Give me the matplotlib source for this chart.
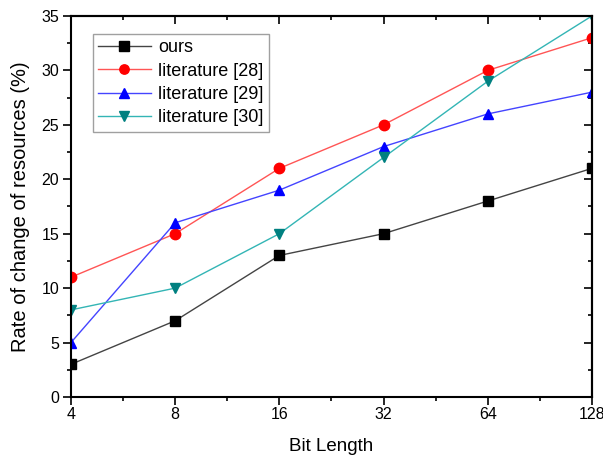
import matplotlib
matplotlib.use("Agg")
import matplotlib.pyplot as plt
from matplotlib.ticker import MultipleLocator

plt.rcParams["font.family"] = ["Liberation Sans", "DejaVu Sans"]

bit_lengths = ["4", "8", "16", "32", "64", "128"]
ours = [3, 7, 13, 15, 18, 21]
lit28 = [11, 15, 21, 25, 30, 33]
lit29 = [5, 16, 19, 23, 26, 28]
lit30 = [8, 10, 15, 22, 29, 35]

fig = plt.figure(figsize=(6.03, 4.58), dpi=100)
ax = fig.add_axes([0.1177, 0.1332, 0.864, 0.832])

x = list(range(len(bit_lengths)))
series = [
    (ours, "ours", "s", "#444444", "black"),
    (lit28, "literature [28]", "o", "#ff5555", "red"),
    (lit29, "literature [29]", "^", "#4444ff", "blue"),
    (lit30, "literature [30]", "v", "#33b5b5", "#008080"),
]
for vals, name, mk, lc, mc in series:
    ax.plot(x, vals, color=lc, lw=1.0, marker=mk, ms=7.5,
            markerfacecolor=mc, markeredgecolor=mc, label=name)

ax.set_xlim(0, len(bit_lengths) - 1)
ax.set_ylim(0, 35)
ax.set_xticks(x)
ax.set_xticklabels(bit_lengths)
ax.xaxis.set_minor_locator(MultipleLocator(0.5))
ax.yaxis.set_major_locator(MultipleLocator(5))
ax.yaxis.set_minor_locator(MultipleLocator(2.5))
# bottom/left ticks point out, top/right ticks point in (Origin style)
ax.tick_params(which="both", direction="out", labelsize=11.5, width=1.2)
ax.tick_params(axis="x", pad=1.5)
ax.tick_params(axis="y", pad=3)
ax.tick_params(which="major", length=5.5)
ax.tick_params(which="minor", length=3)

top = ax.secondary_xaxis("top")
top.set_xticks(x)
top.xaxis.set_minor_locator(MultipleLocator(0.5))
right = ax.secondary_yaxis("right")
right.yaxis.set_major_locator(MultipleLocator(5))
right.yaxis.set_minor_locator(MultipleLocator(2.5))
for sec in (top, right):
    sec.tick_params(which="both", direction="in", labelleft=False,
                    labelright=False, labeltop=False, labelbottom=False,
                    width=1.2)
    sec.tick_params(which="major", length=5.5)
    sec.tick_params(which="minor", length=3)
    for s in sec.spines.values():
        s.set_linewidth(1.5)

for s in ax.spines.values():
    s.set_linewidth(1.5)

ax.set_xlabel("Bit Length", fontsize=13.5, labelpad=12)
ax.set_ylabel("Rate of change of resources (%)", fontsize=14.5, labelpad=8)

leg = ax.legend(loc="upper left", bbox_to_anchor=(0.042, 0.953), fontsize=13,
                frameon=True, fancybox=False, edgecolor="#888888",
                handlelength=2.9, borderpad=0.3, labelspacing=0.35,
                handletextpad=0.4, borderaxespad=0, markerscale=0.9)
leg.get_frame().set_linewidth(1.0)

fig.savefig("out.png", dpi=100)
